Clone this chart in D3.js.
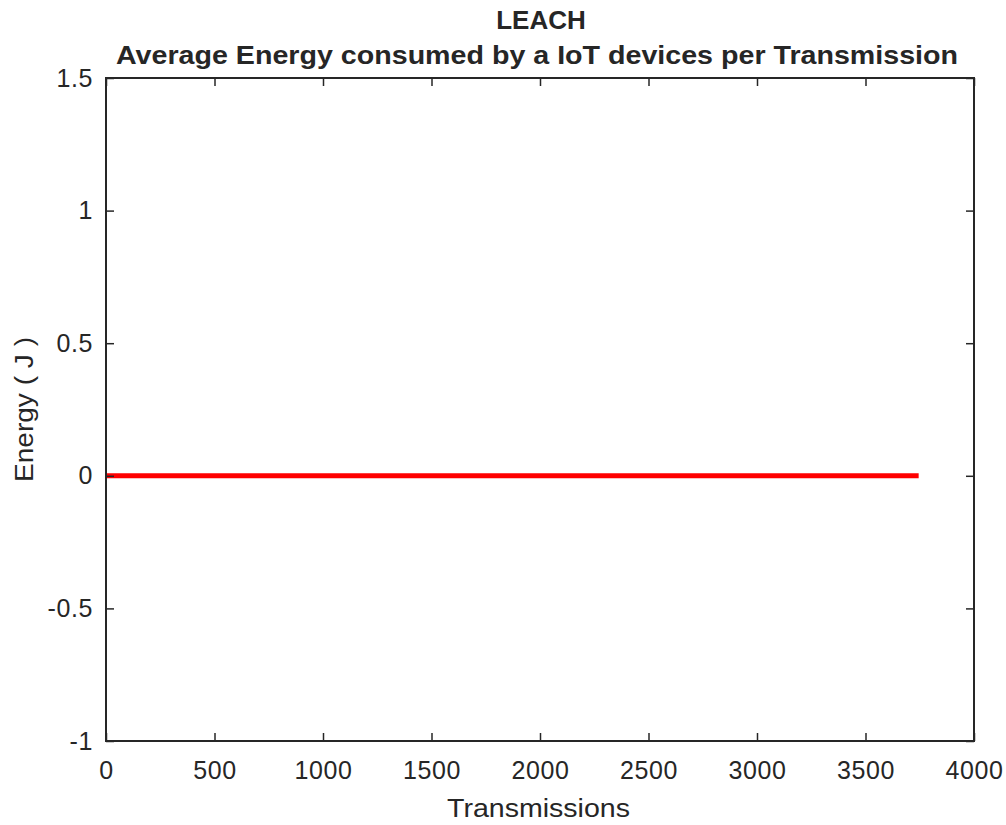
<!DOCTYPE html>
<html>
<head>
<meta charset="utf-8">
<script src="https://cdn.jsdelivr.net/npm/d3@7"></script>
<style>
  body { margin: 0; background: #fff; }
  text { font-family: "Liberation Sans", Arial, Helvetica, sans-serif; fill: #262626; }
</style>
</head>
<body>
<svg id="svg1" width="1006" height="825"></svg>
<script>
// data
var transmissions = [0, 3745];
var energy = [0, 0];
var xTicks = [0, 500, 1000, 1500, 2000, 2500, 3000, 3500, 4000];
var yTicks = [-1, -0.5, 0, 0.5, 1, 1.5];

// layout
var plotLeft = 106, plotRight = 974, plotTop = 78, plotBottom = 741;
var tickLen = 8;
var axisColor = "#262626";

var svg = d3.select("#svg1");

var xScale = d3.scaleLinear().domain([0, 4000]).range([plotLeft, plotRight]);
var yScale = d3.scaleLinear().domain([-1, 1.5]).range([plotBottom, plotTop]);

// red line
var line = d3.line()
    .x(function(d) { return xScale(d[0]); })
    .y(function(d) { return yScale(d[1]); });

svg.append("path")
    .datum(d3.zip(transmissions, energy))
    .attr("d", line)
    .attr("fill", "none")
    .attr("stroke", "#ff0000")
    .attr("stroke-width", 5);

// axes (ticks pointing inward, like matlab)
function styleAxis(g) {
    g.select(".domain").remove();
    g.selectAll(".tick line").attr("stroke", axisColor).attr("stroke-width", 1.5);
    g.selectAll(".tick text").style("font-size", "25px").style("letter-spacing", "0.6px").attr("fill", axisColor);
}

// plain hyphen for negatives, as in the original
function plainNum(d) { return String(d); }

svg.append("g")
    .attr("transform", "translate(0," + plotBottom + ")")
    .call(d3.axisBottom(xScale).tickValues(xTicks).tickSizeInner(-tickLen).tickSizeOuter(0).tickPadding(20).tickFormat(plainNum))
    .call(styleAxis);

svg.append("g")
    .attr("transform", "translate(0," + plotTop + ")")
    .call(d3.axisTop(xScale).tickValues(xTicks).tickSizeInner(-tickLen).tickSizeOuter(0).tickFormat(""))
    .call(styleAxis);

svg.append("g")
    .attr("transform", "translate(" + plotLeft + ",0)")
    .call(d3.axisLeft(yScale).tickValues(yTicks).tickSizeInner(-tickLen).tickSizeOuter(0).tickPadding(13).tickFormat(plainNum))
    .call(styleAxis);

svg.append("g")
    .attr("transform", "translate(" + plotRight + ",0)")
    .call(d3.axisRight(yScale).tickValues(yTicks).tickSizeInner(-tickLen).tickSizeOuter(0).tickFormat(""))
    .call(styleAxis);

// box
svg.append("rect")
    .attr("x", plotLeft).attr("y", plotTop)
    .attr("width", plotRight - plotLeft).attr("height", plotBottom - plotTop)
    .attr("fill", "none")
    .attr("stroke", axisColor)
    .attr("stroke-width", 2);

// titles
svg.append("text")
    .attr("x", 541).attr("y", 29)
    .attr("text-anchor", "middle")
    .style("font-size", "26px").style("font-weight", "bold")
    .attr("fill", "#000")
    .text("LEACH");
svg.append("text")
    .attr("x", 537).attr("y", 64)
    .attr("text-anchor", "middle")
    .attr("textLength", 842).attr("lengthAdjust", "spacingAndGlyphs")
    .style("font-size", "25px").style("font-weight", "bold")
    .attr("fill", "#000")
    .text("Average Energy consumed by a IoT devices per Transmission");

// axis labels
svg.append("text")
    .attr("x", 538.5).attr("y", 817)
    .attr("text-anchor", "middle")
    .attr("textLength", 183).attr("lengthAdjust", "spacingAndGlyphs")
    .style("font-size", "25px")
    .text("Transmissions");
svg.append("text")
    .attr("transform", "translate(33,409.5) rotate(-90)")
    .attr("text-anchor", "middle")
    .attr("textLength", 145).attr("lengthAdjust", "spacingAndGlyphs")
    .style("font-size", "26px")
    .text("Energy ( J )");
</script>
</body>
</html>
